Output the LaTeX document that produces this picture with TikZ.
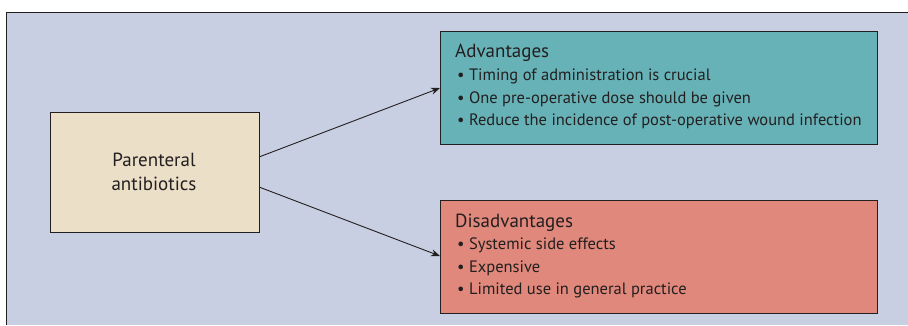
\documentclass[tikz,border=0pt]{standalone}
\usepackage{fontspec}
\setmainfont{PT Sans}
\usetikzlibrary{arrows.meta}
\definecolor{bgc}{HTML}{C9CFE2}
\definecolor{boxa}{HTML}{EBDFC8}
\definecolor{advc}{HTML}{67B2B7}
\definecolor{disc}{HTML}{DF887B}
\definecolor{ink}{HTML}{231F20}
\begin{document}
\begin{tikzpicture}[x=1pt,y=-1pt,
  panel/.style={draw=ink,line width=0.9pt},
  conn/.style={draw=ink,line width=0.9pt,-{Stealth[length=9pt,width=7pt]}},
  txt/.style={text=ink,inner sep=0pt,anchor=base west},
  font=\fontsize{16.5}{20}\selectfont]
\useasboundingbox (0,0) rectangle (908,325);
\fill[white] (0,0) rectangle (908,325);
\fill[bgc] (6,12) rectangle (908,325);
\draw[ink,line width=0.9pt] (6,325) -- (6,12) -- (908,12);
\node[panel,fill=boxa,minimum width=209pt,minimum height=120pt,anchor=north west,inner sep=0pt] (src) at (50,112) {};
\node[text=ink,align=center,font=\fontsize{19}{24}\selectfont] (srct) at (154,172) {Parenteral\\antibiotics};
\node[panel,fill=advc,minimum width=437pt,minimum height=113pt,anchor=north west,inner sep=0pt] (adv) at (440,31) {};
\node[panel,fill=disc,minimum width=437pt,minimum height=113pt,anchor=north west,inner sep=0pt] (dis) at (440,200) {};
\node[txt,font=\fontsize{19}{22}\selectfont] (at) at (455,57) {Advantages};
\node[txt] (a1) at (457,80) {\textbullet\ Timing of administration is crucial};
\node[txt] (a2) at (457,103) {\textbullet\ One pre-operative dose should be given};
\node[txt] (a3) at (457,125) {\textbullet\ Reduce the incidence of post-operative wound infection};
\node[txt,font=\fontsize{19}{22}\selectfont] (dt) at (455,227) {Disadvantages};
\node[txt] (d1) at (457,249) {\textbullet\ Systemic side effects};
\node[txt] (d2) at (457,272) {\textbullet\ Expensive};
\node[txt] (d3) at (457,294) {\textbullet\ Limited use in general practice};
\coordinate (s1) at (259,157);
\coordinate (s2) at (259,187);
\coordinate (e1) at (440,88);
\coordinate (e2) at (440,256);
\draw[conn] (s1) -- (e1);
\draw[conn] (s2) -- (e2);
\end{tikzpicture}
\end{document}
